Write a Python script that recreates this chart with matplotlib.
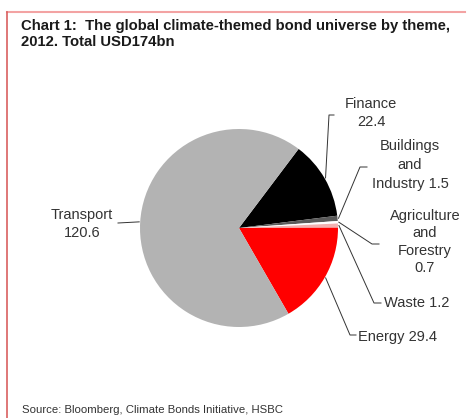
import matplotlib.pyplot as plt
from matplotlib.lines import Line2D
import numpy as np

# data
themes = ["Finance", "Buildings and Industry", "Agriculture and Forestry",
          "Waste", "Energy", "Transport"]
values = [22.4, 1.5, 0.7, 1.2, 29.4, 120.6]
label_texts = ["Finance\n22.4", "Buildings\nand\nIndustry 1.5",
               "Agriculture\nand\nForestry\n0.7", "Waste 1.2",
               "Energy 29.4", "Transport\n120.6"]
colors = ["#000000", "#5a5a5a", "#ffffff", "#f2b0b0", "#ff0000", "#b3b3b3"]

W, H = 471, 418
fig = plt.figure(figsize=(W / 100, H / 100), dpi=100)
fig.patch.set_facecolor("white")
plt.rcParams["font.family"] = ["Liberation Sans", "DejaVu Sans"]


def fx(px):
    return px / W


def fy(py):
    return 1 - py / H


# frame lines (top and left)
fig.add_artist(Line2D([fx(7), fx(465)], [fy(12), fy(12)], color="#f3a3a3", lw=1.5,
                      transform=fig.transFigure))
fig.add_artist(Line2D([fx(7), fx(7)], [fy(12), fy(418)], color="#d96060", lw=1.2,
                      transform=fig.transFigure))

# title
fig.text(fx(21), fy(34), "Chart 1:  The global climate-themed bond universe by theme,\n2012. Total USD174bn",
         fontsize=10.7, fontweight="bold", color="#1a1a1a", va="center", ha="left",
         linespacing=1.1)

# pie
cx, cy, r = 239, 228, 99
ax = fig.add_axes([fx(cx - r), fy(cy + r), 2 * r / W, 2 * r / H])
wedges, _ = ax.pie(values, colors=colors, startangle=53, counterclock=False,
                   radius=1, wedgeprops=dict(linewidth=0))
ax.set_xlim(-1, 1)
ax.set_ylim(-1, 1)
ax.set_aspect("equal")
ax.axis("off")

# label layout: (elbow px, end px, text center px, line spacing)
layout = [
    ((329, 115), (334, 115), (371, 113), 1.45),
    ((360, 167), (367, 167), (410, 165), 1.45),
    ((372, 244), (379, 244), (425, 242), 1.3),
    ((374, 303), (381, 303), (417, 303), 1.3),
    ((350, 335), (356, 335), (397, 337), 1.3),
    ((118, 223), (118, 223), (82, 224), 1.35),
]

for w, txt, (elbow, end, tpos, ls) in zip(wedges, label_texts, layout):
    mid = np.deg2rad((w.theta1 + w.theta2) / 2)
    sx = cx + r * 1.01 * np.cos(mid)
    sy = cy - r * 1.01 * np.sin(mid)
    fig.add_artist(Line2D([fx(sx), fx(elbow[0]), fx(end[0])],
                          [fy(sy), fy(elbow[1]), fy(end[1])],
                          color="#333333", lw=0.7, transform=fig.transFigure))
    fig.text(fx(tpos[0]), fy(tpos[1]), txt, fontsize=10.5, color="#333333",
             ha="center", va="center", linespacing=ls)

# source
fig.text(fx(22), fy(410), "Source: Bloomberg, Climate Bonds Initiative, HSBC",
         fontsize=8.2, color="#333333", ha="left", va="center")

plt.savefig("out.png", dpi=100)
